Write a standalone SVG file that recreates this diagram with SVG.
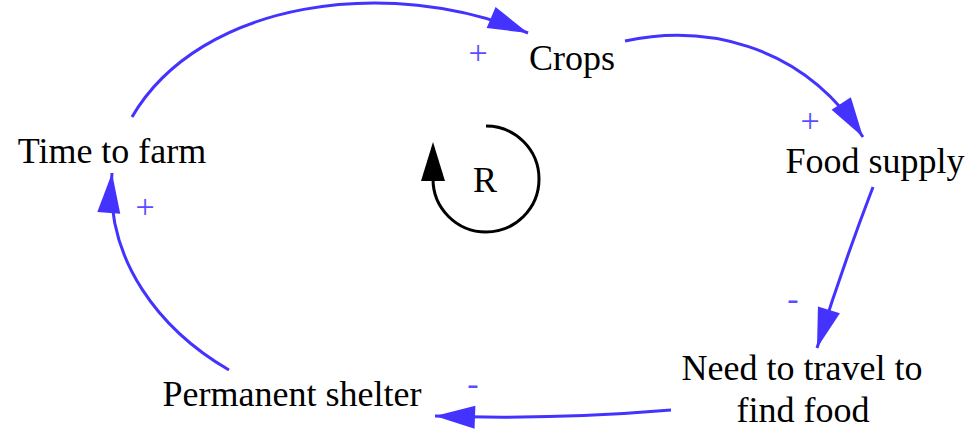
<svg xmlns="http://www.w3.org/2000/svg" width="974" height="432" viewBox="0 0 974 432">
<style>
text{font-family:"Liberation Serif","DejaVu Serif",serif}
.lbl{font-size:36px;fill:#000;text-anchor:middle}
.pol{font-size:34px;fill:#5a4dff;text-anchor:middle}
.link{fill:none;stroke:#4433ff;stroke-width:3;marker-end:url(#ah)}
</style>
<defs>
<marker id="ah" markerUnits="userSpaceOnUse" markerWidth="42" markerHeight="26" viewBox="-41 -13 42 26" refX="0" refY="0" orient="auto">
<path d="M0,0 L-40,-11.5 L-40,11.5 Z" fill="#4433ff"/>
</marker>
</defs>
<rect width="974" height="432" fill="#fff"/>
<g id="connectors">
<path class="link" d="M132,117 C200,0 390,-25 528,33"/>
<path class="link" d="M625,41 C700,25 800,40 863,137"/>
<path class="link" d="M873,187 Q842,268 817,348"/>
<path class="link" d="M671,410 Q552,420 435,416"/>
<path class="link" d="M229,370 C160,330 105,260 112,173"/>
</g>
<g id="polarities">
<text class="pol" x="478" y="64">+</text>
<text class="pol" x="810" y="132">+</text>
<text class="pol" x="145" y="218">+</text>
<text class="pol" x="793" y="310">-</text>
<text class="pol" x="473" y="395">-</text>
</g>
<g id="loop">
<path d="M486,126 A53,53 0 1 1 433,179" fill="none" stroke="#000" stroke-width="3"/>
<path d="M433,142 L445,181 L421,181 Z" fill="#000"/>
<text class="lbl" x="485" y="192">R</text>
</g>
<g id="node-crops"><text class="lbl" x="572" y="70">Crops</text></g>
<g id="node-food-supply"><text class="lbl" x="875" y="173">Food supply</text></g>
<g id="node-need-to-travel"><text class="lbl" x="802" y="380">Need to travel to</text><text class="lbl" x="803" y="422">find food</text></g>
<g id="node-permanent-shelter"><text class="lbl" x="292" y="406">Permanent shelter</text></g>
<g id="node-time-to-farm"><text class="lbl" x="112" y="163">Time to farm</text></g>
</svg>
